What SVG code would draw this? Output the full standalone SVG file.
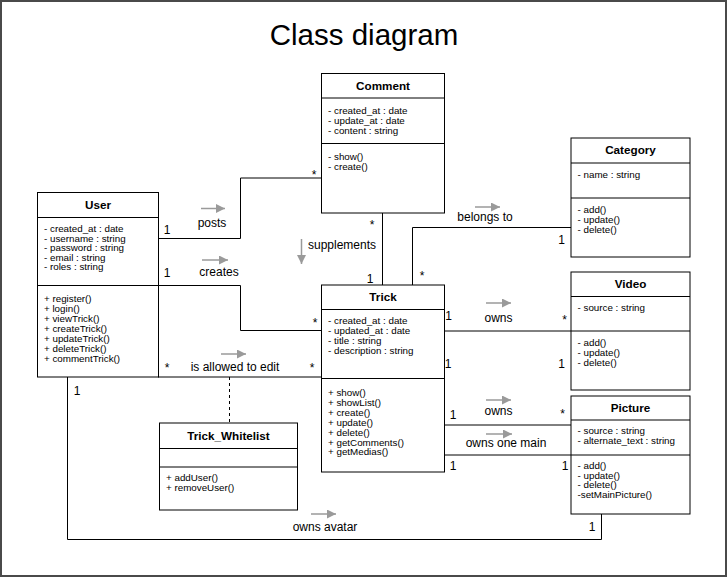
<svg xmlns="http://www.w3.org/2000/svg" width="727" height="577" viewBox="0 0 727 577">
<defs>
<marker id="dir" markerUnits="userSpaceOnUse" markerWidth="10" markerHeight="10" refX="9" refY="4.5" orient="auto">
<path d="M0,0 L9,4.5 L0,9 z" fill="#9a9a9a"/>
</marker>
<style>
.box{fill:#fff;stroke:#000;stroke-width:1}
.sep{stroke:#000;stroke-width:1}
.hd{font-family:"Liberation Sans",Arial,sans-serif;font-size:11.7px;font-weight:bold;text-anchor:middle;fill:#000}
.m{font-family:"Liberation Sans",Arial,sans-serif;font-size:9.8px;fill:#000}
.lbl{font-family:"Liberation Sans",Arial,sans-serif;font-size:12px;fill:#000}
.mid{text-anchor:middle}
.conn{fill:none;stroke:#000;stroke-width:1}
.dir{fill:none;stroke:#9a9a9a;stroke-width:1.5;marker-end:url(#dir)}
</style>
</defs>
<rect x="0" y="0" width="727" height="577" fill="#fff"/>
<rect x="1" y="1" width="725" height="575" fill="none" stroke="#4a4a4a" stroke-width="2"/>
<text x="364" y="45" font-family="Liberation Sans,Arial,sans-serif" font-size="29.5" text-anchor="middle" fill="#000">Class diagram</text>

<g id="connectors">
<path class="conn" d="M158,238.5 H240.5 V178 H321"/>
<path class="conn" d="M158,285.5 H240.5 V330.5 H321"/>
<path class="conn" d="M158,377 H321"/>
<path class="conn" d="M229.5,377 V423" stroke-dasharray="3,3"/>
<path class="conn" d="M382.5,213 V285"/>
<path class="conn" d="M412.5,285 V227.5 H571"/>
<path class="conn" d="M444,331 H571"/>
<path class="conn" d="M444,425 H571"/>
<path class="conn" d="M444,455 H571"/>
<path class="conn" d="M67.5,377 V539.5 H601.5 V514"/>
<line class="dir" x1="201" y1="208.5" x2="225" y2="208.5"/>
<line class="dir" x1="202" y1="260" x2="228" y2="260"/>
<line class="dir" x1="221" y1="354" x2="246" y2="354"/>
<line class="dir" x1="301.5" y1="239" x2="301.5" y2="264"/>
<line class="dir" x1="475" y1="207" x2="500" y2="207"/>
<line class="dir" x1="486" y1="303" x2="511" y2="303"/>
<line class="dir" x1="486" y1="400" x2="511" y2="400"/>
<line class="dir" x1="486" y1="434" x2="512" y2="434"/>
<line class="dir" x1="311" y1="514" x2="336" y2="514"/>
<text class="lbl mid" x="212" y="227">posts</text>
<text class="lbl mid" x="219" y="275.5">creates</text>
<text class="lbl mid" x="235" y="370.5">is allowed to edit</text>
<text class="lbl" x="308" y="249">supplements</text>
<text class="lbl mid" x="485" y="221">belongs to</text>
<text class="lbl mid" x="498.5" y="322">owns</text>
<text class="lbl mid" x="498.5" y="415">owns</text>
<text class="lbl mid" x="506" y="447">owns one main</text>
<text class="lbl mid" x="325" y="531">owns avatar</text>
<text class="lbl mid" x="167" y="234">1</text>
<text class="lbl mid" x="314" y="178.5">*</text>
<text class="lbl mid" x="167" y="277">1</text>
<text class="lbl mid" x="315" y="327">*</text>
<text class="lbl mid" x="167" y="372">*</text>
<text class="lbl mid" x="312" y="372">*</text>
<text class="lbl mid" x="372" y="228.5">*</text>
<text class="lbl mid" x="370" y="282.5">1</text>
<text class="lbl mid" x="422" y="279.5">*</text>
<text class="lbl mid" x="561.5" y="243.5">1</text>
<text class="lbl mid" x="448.5" y="319.5">1</text>
<text class="lbl mid" x="564.5" y="323.5">*</text>
<text class="lbl mid" x="448" y="367.5">1</text>
<text class="lbl mid" x="561.5" y="367.5">1</text>
<text class="lbl mid" x="453" y="418.5">1</text>
<text class="lbl mid" x="562.5" y="418">*</text>
<text class="lbl mid" x="453" y="470">1</text>
<text class="lbl mid" x="565" y="470">1</text>
<text class="lbl mid" x="77" y="394.5">1</text>
<text class="lbl mid" x="592" y="531">1</text>
</g>

<g id="Comment">
<rect class="box" x="321.5" y="73.5" width="123" height="139.5"/>
<line class="sep" x1="321.5" y1="98" x2="444.5" y2="98"/>
<line class="sep" x1="321.5" y1="143.5" x2="444.5" y2="143.5"/>
<text class="hd" x="383" y="89.5">Comment</text>
<text class="m" x="328" y="113.5">- created_at : date</text>
<text class="m" x="328" y="123.5">- update_at : date</text>
<text class="m" x="328" y="133.5">- content : string</text>
<text class="m" x="328" y="160">- show()</text>
<text class="m" x="328" y="170">- create()</text>
</g>

<g id="User">
<rect class="box" x="37.5" y="192.5" width="121" height="184.5"/>
<line class="sep" x1="37.5" y1="217.5" x2="158.5" y2="217.5"/>
<line class="sep" x1="37.5" y1="285.5" x2="158.5" y2="285.5"/>
<text class="hd" x="98" y="208.5">User</text>
<text class="m" x="44" y="232">- created_at : date</text>
<text class="m" x="44" y="241.6">- username : string</text>
<text class="m" x="44" y="251.2">- password : string</text>
<text class="m" x="44" y="260.8">- email : string</text>
<text class="m" x="44" y="270.4">- roles : string</text>
<text class="m" x="44" y="302">+ register()</text>
<text class="m" x="44" y="312">+ login()</text>
<text class="m" x="44" y="322">+ viewTrick()</text>
<text class="m" x="44" y="332">+ createTrick()</text>
<text class="m" x="44" y="342">+ updateTrick()</text>
<text class="m" x="44" y="352">+ deleteTrick()</text>
<text class="m" x="44" y="362">+ commentTrick()</text>
</g>

<g id="Trick">
<rect class="box" x="321.5" y="285" width="123" height="187"/>
<line class="sep" x1="321.5" y1="309.5" x2="444.5" y2="309.5"/>
<line class="sep" x1="321.5" y1="378.5" x2="444.5" y2="378.5"/>
<text class="hd" x="383" y="301">Trick</text>
<text class="m" x="328" y="324">- created_at : date</text>
<text class="m" x="328" y="334">- updated_at : date</text>
<text class="m" x="328" y="344">- title : string</text>
<text class="m" x="328" y="354">- description : string</text>
<text class="m" x="328" y="396">+ show()</text>
<text class="m" x="328" y="406">+ showList()</text>
<text class="m" x="328" y="416">+ create()</text>
<text class="m" x="328" y="425.5">+ update()</text>
<text class="m" x="328" y="435.5">+ delete()</text>
<text class="m" x="328" y="445.5">+ getComments()</text>
<text class="m" x="328" y="455">+ getMedias()</text>
</g>

<g id="Category">
<rect class="box" x="571" y="138" width="119" height="119"/>
<line class="sep" x1="571" y1="163" x2="690" y2="163"/>
<line class="sep" x1="571" y1="198" x2="690" y2="198"/>
<text class="hd" x="630.5" y="154">Category</text>
<text class="m" x="577.5" y="177.5">- name : string</text>
<text class="m" x="577.5" y="212.5">- add()</text>
<text class="m" x="577.5" y="222.5">- update()</text>
<text class="m" x="577.5" y="232.5">- delete()</text>
</g>

<g id="Video">
<rect class="box" x="571" y="272" width="119" height="118"/>
<line class="sep" x1="571" y1="296.5" x2="690" y2="296.5"/>
<line class="sep" x1="571" y1="331" x2="690" y2="331"/>
<text class="hd" x="630.5" y="288">Video</text>
<text class="m" x="577.5" y="311">- source : string</text>
<text class="m" x="577.5" y="346">- add()</text>
<text class="m" x="577.5" y="356">- update()</text>
<text class="m" x="577.5" y="366">- delete()</text>
</g>

<g id="Picture">
<rect class="box" x="571" y="396" width="119" height="118"/>
<line class="sep" x1="571" y1="420" x2="690" y2="420"/>
<line class="sep" x1="571" y1="455" x2="690" y2="455"/>
<text class="hd" x="630.5" y="412">Picture</text>
<text class="m" x="577.5" y="434">- source : string</text>
<text class="m" x="577.5" y="444">- alternate_text : string</text>
<text class="m" x="577.5" y="469">- add()</text>
<text class="m" x="577.5" y="478.7">- update()</text>
<text class="m" x="577.5" y="488.3">- delete()</text>
<text class="m" x="577.5" y="498">-setMainPicture()</text>
</g>

<g id="Trick_Whitelist">
<rect class="box" x="159.5" y="423" width="138" height="87"/>
<line class="sep" x1="159.5" y1="448.5" x2="297.5" y2="448.5"/>
<line class="sep" x1="159.5" y1="467" x2="297.5" y2="467"/>
<text class="hd" x="228.5" y="439.5">Trick_Whitelist</text>
<text class="m" x="166" y="481">+ addUser()</text>
<text class="m" x="166" y="491">+ removeUser()</text>
</g>
</svg>
